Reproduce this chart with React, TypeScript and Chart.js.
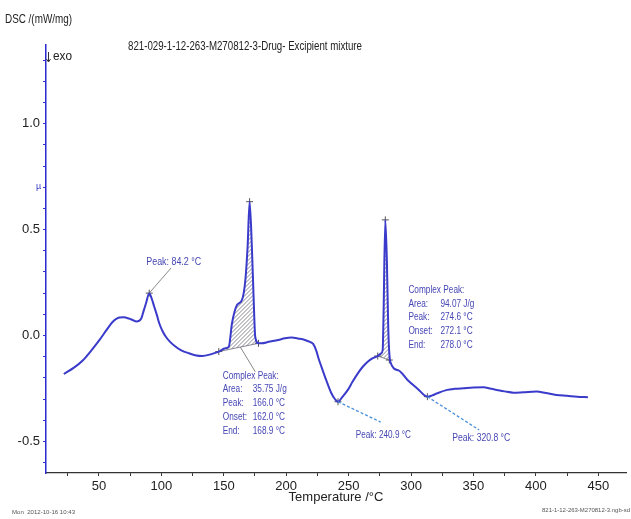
import React, { useEffect, useRef } from 'react';
import { Chart, registerables } from 'chart.js';

Chart.register(...registerables);

// ---- data ----
const temperature = [
  21.9, 30, 37, 44, 50.5, 56, 60.9, 66.4, 70, 74, 77, 80, 83.7, 86, 87.7, 90.3, 92.5, 94.3, 96.5, 98.3,
  101, 103.6, 107, 111.5, 116, 122, 127, 132.7, 140, 146, 151.3, 154, 156.6, 160.6, 164.6, 167.3, 169.1,
  170.7, 172.5, 173.9, 175.2, 177.8, 180.4, 186, 193.7, 199, 204.3, 210, 215, 219, 221.6, 224, 226,
  228.2, 232, 236.2, 239, 241.5, 245, 249.4, 253, 257.4, 261, 265.3, 269, 273.3, 276, 277.3, 278,
  279.4, 280.7, 281.8, 283.4, 290, 297.2, 305, 313.1, 317, 321, 329, 335, 342.3, 350, 358.2, 363,
  368.8, 375, 382, 390, 400.6, 408, 416.5, 425, 433, 441.7,
];
const dscSignal = [
  -0.182, -0.152, -0.118, -0.07, -0.021, 0.025, 0.064, 0.085, 0.086, 0.08, 0.073, 0.066, 0.078, 0.12, 0.152, 0.2, 0.17, 0.136, 0.095, 0.058,
  0.02, -0.006, -0.03, -0.053, -0.07, -0.084, -0.093, -0.097, -0.088, -0.076, -0.06, -0.054, 0.058, 0.144, 0.168, 0.262, 0.42,
  0.632, 0.42, 0.18, -0.006, -0.037, -0.037, -0.03, -0.021, -0.013, -0.01, -0.015, -0.021, -0.03, -0.04, -0.07, -0.11,
  -0.147, -0.21, -0.273, -0.3, -0.313, -0.29, -0.257, -0.22, -0.179, -0.15, -0.124, -0.108, -0.097, -0.085, -0.068, 0.105,
  0.546, 0.341, 0.026, -0.124, -0.165, -0.21, -0.25, -0.289, -0.283, -0.273, -0.257, -0.252, -0.249, -0.246, -0.245, -0.25,
  -0.257, -0.264, -0.27, -0.268, -0.265, -0.272, -0.281, -0.285, -0.289, -0.292,
];

// evaluation marks (+)
const markerTemps = [90.3, 146, 170.7, 177.8, 241.5, 273.3, 279.4, 282.6, 313.1];
const markerValues = [0.2, -0.076, 0.632, -0.037, -0.313, -0.097, 0.546, -0.116, -0.289];

// hatched peak areas: baseline start/end
const hatchStartTemp = [146, 273.3];
const hatchStartValue = [-0.076, -0.097];
const hatchEndTemp = [177.8, 282.6];
const hatchEndValue = [-0.037, -0.116];

// axis ticks
const xMajorTicks = [50, 100, 150, 200, 250, 300, 350, 400, 450];
const xMinorTicks = [25, 75, 125, 175, 225, 275, 325, 375, 425];
const yLabelTicks = [-0.5, 0.0, 0.5, 1.0];
const yMinorTicks = [-0.6, -0.4, -0.3, -0.2, -0.1, 0.1, 0.2, 0.3, 0.4, 0.6, 0.7, 0.8, 0.9, 1.1, 1.2, 1.3];

// texts
const chartTitle = '821-029-1-12-263-M270812-3-Drug- Excipient mixture';
const yAxisTitle = 'DSC /(mW/mg)';
const exoLabel = 'exo';
const xAxisTitle = 'Temperature /\u00B0C';
const footerLeft = 'Mon  2012-10-16 10:43';
const footerRight = '821-1-12-263-M270812-3.ngb-sd';
const peakLabels = ['Peak: 84.2 \u00B0C', 'Peak: 240.9 \u00B0C', 'Peak: 320.8 \u00B0C'];
const complex1Names = ['Area:', 'Peak:', 'Onset:', 'End:'];
const complex1Values = ['35.75 J/g', '166.0 \u00B0C', '162.0 \u00B0C', '168.9 \u00B0C'];
const complex2Names = ['Area:', 'Peak:', 'Onset:', 'End:'];
const complex2Values = ['94.07 J/g', '274.6 \u00B0C', '272.1 \u00B0C', '278.0 \u00B0C'];

const FONT = "'Liberation Sans Narrow', 'Liberation Sans', Arial, sans-serif";
const ANN_COLOR = '#4646b4';
const CURVE_COLOR = '#3a3acb';

function drawFit(ctx: CanvasRenderingContext2D, text: string, x: number, y: number, font: string, color: string, width?: number, k?: number) {
  ctx.save();
  ctx.font = font;
  ctx.fillStyle = color;
  ctx.textBaseline = 'middle';
  ctx.textAlign = 'left';
  const w = ctx.measureText(text).width;
  const sx = width ? width / w : (k || 1);
  ctx.translate(x, y);
  ctx.scale(sx, 1);
  ctx.fillText(text, 0, 0);
  ctx.restore();
}

const overlayPlugin = {
  id: 'dscOverlay',
  beforeDatasetsDraw(chart: any) {
    const { ctx, scales } = chart;
    const xs = scales.x;
    const ys = scales.y;
    for (let r = 0; r < hatchStartTemp.length; r++) {
      const s = hatchStartTemp[r];
      const e = hatchEndTemp[r];
      ctx.save();
      ctx.beginPath();
      ctx.moveTo(xs.getPixelForValue(s), ys.getPixelForValue(hatchStartValue[r]));
      let minY = Infinity;
      for (let i = 0; i < temperature.length; i++) {
        if (temperature[i] > s && temperature[i] < e) {
          const px = xs.getPixelForValue(temperature[i]);
          const py = ys.getPixelForValue(dscSignal[i]);
          ctx.lineTo(px, py);
          minY = Math.min(minY, py);
        }
      }
      const ex = xs.getPixelForValue(e);
      const ey = ys.getPixelForValue(hatchEndValue[r]);
      ctx.lineTo(ex, ey);
      ctx.closePath();
      ctx.clip();
      const minX = xs.getPixelForValue(s) - 2;
      const maxX = ex + 2;
      const maxY = Math.max(ys.getPixelForValue(hatchStartValue[r]), ey) + 2;
      minY -= 2;
      const h = maxY - minY;
      ctx.strokeStyle = '#6a6a7a';
      ctx.lineWidth = 0.8;
      ctx.beginPath();
      for (let k = minX - h; k < maxX + 4; k += 4) {
        ctx.moveTo(k, maxY);
        ctx.lineTo(k + h, minY);
      }
      ctx.stroke();
      ctx.restore();
      ctx.save();
      ctx.strokeStyle = '#6a6a7a';
      ctx.lineWidth = 0.8;
      ctx.beginPath();
      ctx.moveTo(xs.getPixelForValue(s), ys.getPixelForValue(hatchStartValue[r]));
      ctx.lineTo(ex, ey);
      ctx.stroke();
      ctx.restore();
    }
  },
  afterDraw(chart: any) {
    const { ctx, scales } = chart;
    const xs = scales.x;
    const ys = scales.y;
    const P = (t: number, v: number) => [xs.getPixelForValue(t), ys.getPixelForValue(v)];

    const line = (a: number[], b: number[], color: string, w: number, dash: number[]) => {
      ctx.save();
      ctx.strokeStyle = color;
      ctx.lineWidth = w;
      ctx.setLineDash(dash);
      ctx.beginPath();
      ctx.moveTo(a[0], a[1]);
      ctx.lineTo(b[0], b[1]);
      ctx.stroke();
      ctx.restore();
    };
    line(P(90.3, 0.2), P(107.8, 0.319), '#6a6a6a', 0.8, []);
    line(P(163.3, -0.055), P(175.2, -0.171), '#6a6a6a', 0.8, []);
    line(P(241.5, -0.313), P(275.7, -0.409), '#4a90dc', 1.3, [3, 2]);
    line(P(313.1, -0.289), P(354.5, -0.446), '#4a90dc', 1.3, [3, 2]);

    const annFont = `10px ${FONT}`;
    let p = P(87.9, 0.347);
    drawFit(ctx, peakLabels[0], p[0], p[1], annFont, ANN_COLOR, 55);
    p = P(255.8, -0.47);
    drawFit(ctx, peakLabels[1], p[0], p[1], annFont, ANN_COLOR, 55);
    p = P(333, -0.484);
    drawFit(ctx, peakLabels[2], p[0], p[1], annFont, ANN_COLOR, 58);

    const block = (t: number, v: number, names: string[], values: string[], valOffset: number) => {
      const [bx, by] = P(t, v);
      ctx.save();
      ctx.font = annFont;
      const k = 56 / ctx.measureText('Complex Peak:').width;
      ctx.restore();
      drawFit(ctx, 'Complex Peak:', bx, by, annFont, ANN_COLOR, undefined, k);
      for (let i = 0; i < names.length; i++) {
        const yy = by + 13.8 * (i + 1);
        drawFit(ctx, names[i], bx, yy, annFont, ANN_COLOR, undefined, k);
        drawFit(ctx, values[i], bx + valOffset, yy, annFont, ANN_COLOR, undefined, k);
      }
    };
    block(149.2, -0.191, complex1Names, complex1Values, 30);
    block(297.9, 0.215, complex2Names, complex2Values, 32);

    drawFit(ctx, yAxisTitle, 5, 20, `12px ${FONT}`, '#222', 67);
    // exo arrow
    ctx.save();
    ctx.strokeStyle = '#333';
    ctx.lineWidth = 1;
    ctx.beginPath();
    ctx.moveTo(48.5, 52);
    ctx.lineTo(48.5, 62);
    ctx.moveTo(46.5, 59);
    ctx.lineTo(48.5, 62);
    ctx.lineTo(50.5, 59);
    ctx.stroke();
    ctx.restore();
    drawFit(ctx, exoLabel, 53, 57, `12px ${FONT}`, '#222', 19);
    drawFit(ctx, chartTitle, 128, 47, `12px ${FONT}`, '#222', 234);
    drawFit(ctx, '\u00B5', 36, 187, `9px ${FONT}`, '#3a3acb');
    drawFit(ctx, footerLeft, 12, 512, `6px ${FONT}`, '#555', 63);
    drawFit(ctx, footerRight, 542, 510, `6px ${FONT}`, '#555', 88);
  },
};

export default function App() {
  const ref = useRef<HTMLCanvasElement | null>(null);
  useEffect(() => {
    if (!ref.current) return;
    const xTicks = [...xMajorTicks, ...xMinorTicks].sort((a, b) => a - b);
    const yTicks = [...yLabelTicks, ...yMinorTicks].sort((a, b) => a - b);
    const chart = new Chart(ref.current, {
      type: 'line',
      data: {
        datasets: [
          {
            label: 'DSC',
            data: temperature.map((t, i) => ({ x: t, y: dscSignal[i] })),
            borderColor: CURVE_COLOR,
            borderWidth: 2,
            pointRadius: 0,
            cubicInterpolationMode: 'monotone',
            fill: false,
          },
          {
            label: 'marks',
            data: markerTemps.map((t, i) => ({ x: t, y: markerValues[i] })),
            showLine: false,
            pointStyle: 'cross',
            pointRadius: 3.5,
            borderColor: '#555',
            borderWidth: 1,
            backgroundColor: '#555',
          },
        ],
      } as any,
      options: {
        animation: false,
        responsive: false,
        devicePixelRatio: 1,
        layout: { padding: { top: 45, right: 1, left: 0, bottom: 0 } },
        plugins: { legend: { display: false }, tooltip: { enabled: false }, title: { display: false } },
        scales: {
          x: {
            type: 'linear',
            min: 7.6,
            max: 472.2,
            afterBuildTicks: (s: any) => {
              s.ticks = xTicks.map((v) => ({ value: v }));
            },
            afterFit: (s: any) => {
              s.height = 46;
            },
            ticks: {
              autoSkip: false,
              maxRotation: 0,
              padding: 3,
              color: '#222',
              font: { family: FONT, size: 13 },
              callback: (v: any) => (xMajorTicks.includes(Number(v)) ? String(v) : ''),
            },
            grid: { drawOnChartArea: false, drawTicks: true, tickLength: 3, color: '#333' },
            border: { color: '#333', width: 1.2 },
            title: {
              display: true,
              text: xAxisTitle,
              color: '#222',
              font: { family: FONT, size: 13 },
              padding: { top: 0, bottom: 14 },
            },
          },
          y: {
            type: 'linear',
            min: -0.6495,
            max: 1.372,
            afterBuildTicks: (s: any) => {
              s.ticks = yTicks.map((v) => ({ value: v }));
            },
            afterFit: (s: any) => {
              s.width = 46;
            },
            ticks: {
              autoSkip: false,
              padding: 3,
              color: '#222',
              font: { family: FONT, size: 13 },
              callback: (v: any) => {
                const n = Number(v);
                return yLabelTicks.some((l) => Math.abs(l - n) < 1e-6) ? n.toFixed(1) : '';
              },
            },
            grid: { drawOnChartArea: false, drawTicks: true, tickLength: 3, color: '#3333cc' },
            border: { color: '#2a2ad0', width: 1.5 },
          },
        },
      } as any,
      plugins: [overlayPlugin],
    });
    return () => chart.destroy();
  }, []);

  return (
    <div style={{ position: 'absolute', left: 0, top: 0, width: 631, height: 519, background: '#fff' }}>
      <canvas ref={ref} width={631} height={519} style={{ display: 'block' }} />
    </div>
  );
}
